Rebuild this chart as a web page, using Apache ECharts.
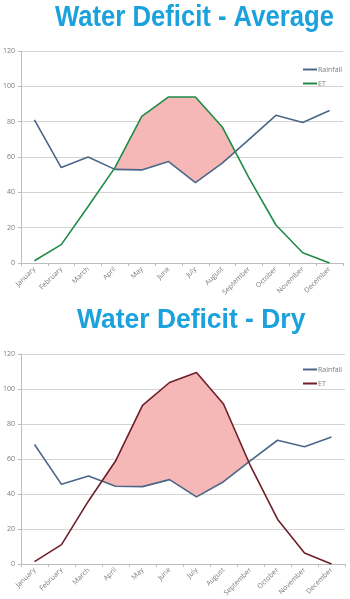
<!DOCTYPE html>
<html>
<head>
<meta charset="utf-8">
<script src="https://cdn.jsdelivr.net/npm/echarts@6/dist/echarts.min.js"></script>
<style>
  html, body { margin: 0; padding: 0; background: #fff; }
  #chart { width: 350px; height: 599px; }
</style>
</head>
<body>
<div id="chart"></div>
<script>
const months = ['January', 'February', 'March', 'April', 'May', 'June', 'July',
  'August', 'September', 'October', 'November', 'December'];
const yTicks = [0, 20, 40, 60, 80, 100, 120];

const avgRain = [81, 54, 60, 53, 52.7, 57.4, 45.5, 56.5, 70, 83.6, 79.5, 86.3];
const avgET = [1.3, 10.4, 32, 54, 83, 94, 94, 77, 48, 21.5, 5.8, 0];
const dryRain = [68.3, 45.5, 50.2, 44.4, 44.2, 48.2, 38.3, 47, 59, 70.7, 67, 72.6];
const dryET = [1.3, 11, 36, 58.8, 90.6, 103.7, 109.4, 91.4, 56, 25.6, 6.3, 0];

const chart = echarts.init(document.getElementById('chart'));

const rainColor = '#4b6787';
const avgEtColor = '#1f8b47';
const dryEtColor = '#6e1f29';
const fillColor = '#f6b7b7';
const labelColor = '#7a7a7a';
const gridColor = '#d4d4d4';
const titleColor = '#1ba1db';

// pink area where ET is above rainfall, cut at the crossing points
const deficitRenderer = (rain, et) => (params, api) => {
  const pt = (i, v) => api.coord([i, v]);
  const lerp = (a, b, t) => [a[0] + (b[0] - a[0]) * t, a[1] + (b[1] - a[1]) * t];
  const children = [];
  let upper = [];
  let lower = [];
  const close = () => {
    if (upper.length > 1) {
      children.push({
        type: 'polygon',
        shape: { points: upper.concat(lower.reverse()) },
        style: { fill: fillColor }
      });
    }
    upper = [];
    lower = [];
  };
  for (let i = 0; i < rain.length; i++) {
    const d = et[i] - rain[i];
    if (i > 0) {
      const dp = et[i - 1] - rain[i - 1];
      if ((dp > 0) !== (d > 0)) {
        const t = dp / (dp - d);
        const c = lerp(pt(i - 1, et[i - 1]), pt(i, et[i]), t);
        upper.push(c);
        lower.push(c);
        if (dp > 0) close();
      }
    }
    if (d > 0) {
      upper.push(pt(i, et[i]));
      lower.push(pt(i, rain[i]));
    }
  }
  close();
  return { type: 'group', children };
};

const grids = [
  { left: 20, top: 51, width: 323, height: 212 },
  { left: 21, top: 354, width: 324, height: 211 }
];

const xAxisFor = (gridIndex) => ({
  type: 'category',
  gridIndex,
  data: months,
  boundaryGap: true,
  axisLine: { lineStyle: { color: '#bdbdbd' } },
  axisTick: { show: true, length: 3, lineStyle: { color: '#bdbdbd' } },
  axisLabel: { color: labelColor, fontSize: 7, rotate: 45, margin: 5, interval: 0,
    fontFamily: 'Open Sans' }
});

const yAxisFor = (gridIndex) => ({
  type: 'value',
  gridIndex,
  min: yTicks[0],
  max: yTicks[yTicks.length - 1],
  interval: 20,
  axisLine: { show: true, lineStyle: { color: '#bdbdbd' } },
  axisTick: { show: true, length: 3, lineStyle: { color: '#bdbdbd' } },
  axisLabel: { color: labelColor, fontSize: 7, margin: 6, fontFamily: 'Open Sans' },
  splitLine: { lineStyle: { color: gridColor } }
});

const lineSeries = (name, data, color, idx) => ({
  name,
  type: 'line',
  xAxisIndex: idx,
  yAxisIndex: idx,
  data,
  symbol: 'none',
  lineStyle: { color, width: 1.6 },
  itemStyle: { color },
  z: 3,
  animation: false
});

const legendFor = (top, names) => ({
  left: 298,
  top,
  orient: 'vertical',
  itemWidth: 14,
  itemHeight: 2,
  itemGap: 7,
  icon: 'rect',
  data: names,
  formatter: (name) => name.split(' ')[0],
  textStyle: { fontSize: 7, color: labelColor, fontFamily: 'Open Sans', padding: [0, 0, 0, -4] }
});

// titles are squeezed horizontally to look like a condensed face
const titleText = (text, x, y, size, sx) => ({
  type: 'text',
  x,
  y,
  scaleX: sx,
  style: {
    text,
    fill: titleColor,
    font: 'bold ' + size + 'px "Liberation Sans"',
    textAlign: 'left',
    textVerticalAlign: 'top'
  }
});

chart.setOption({
  animation: false,
  graphic: [
    titleText('Water Deficit - Average', 55, 3, 30, 0.855),
    titleText('Water Deficit - Dry', 77, 307, 27, 0.98)
  ],
  legend: [
    legendFor(61, ['Rainfall', 'ET avg']),
    legendFor(361, ['Rainfall dry', 'ET dry'])
  ],
  grid: grids,
  xAxis: [xAxisFor(0), xAxisFor(1)],
  yAxis: [yAxisFor(0), yAxisFor(1)],
  series: [
    {
      type: 'custom',
      xAxisIndex: 0,
      yAxisIndex: 0,
      data: [[0, 0]],
      renderItem: deficitRenderer(avgRain, avgET),
      z: 1,
      silent: true
    },
    lineSeries('Rainfall', avgRain, rainColor, 0),
    lineSeries('ET avg', avgET, avgEtColor, 0),
    {
      type: 'custom',
      xAxisIndex: 1,
      yAxisIndex: 1,
      data: [[0, 0]],
      renderItem: deficitRenderer(dryRain, dryET),
      z: 1,
      silent: true
    },
    lineSeries('Rainfall dry', dryRain, rainColor, 1),
    lineSeries('ET dry', dryET, dryEtColor, 1)
  ]
});
</script>
</body>
</html>
